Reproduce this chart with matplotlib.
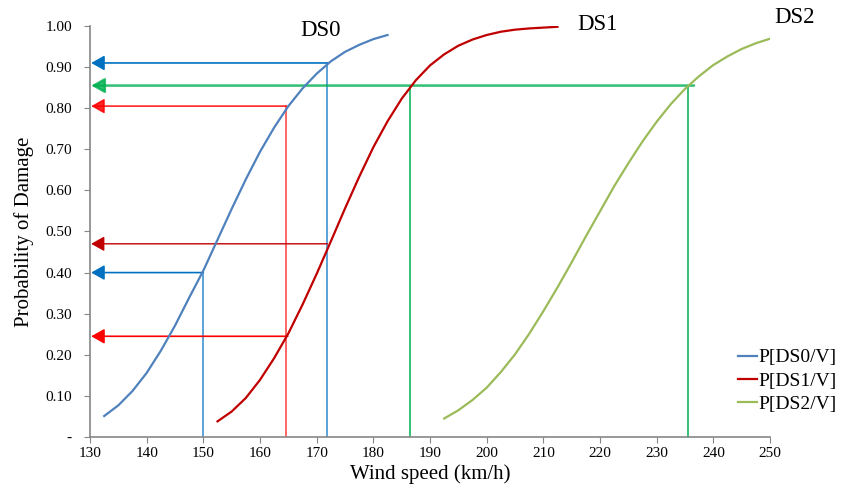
import numpy as np
import matplotlib
matplotlib.use("Agg")
import matplotlib.pyplot as plt

plt.rcParams['font.family'] = ['Liberation Serif', 'DejaVu Serif']

# Fragility curves
ds0_v = [132.5, 135, 137.5, 140, 142.5, 145, 147.5, 150, 152.5, 155, 157.5, 160,
         162.5, 165, 167.5, 170, 172.5, 175, 177.5, 180, 182.5]
ds0_p = [0.051, 0.077, 0.112, 0.156, 0.210, 0.271, 0.339, 0.405, 0.480, 0.555, 0.627, 0.694,
         0.753, 0.805, 0.848, 0.884, 0.914, 0.937, 0.954, 0.968, 0.978]

ds1_v = [152.5, 155, 157.5, 160, 162.5, 165, 167.5, 170, 172.5, 175, 177.5, 180,
         182.5, 185, 187.5, 190, 192.5, 195, 197.5, 200, 202.5, 205, 207.5, 210, 212.5]
ds1_p = [0.038, 0.062, 0.095, 0.139, 0.192, 0.252, 0.322, 0.397, 0.476, 0.556, 0.633, 0.705,
         0.768, 0.823, 0.868, 0.904, 0.931, 0.952, 0.967, 0.978, 0.986, 0.991, 0.994, 0.996, 0.998]

ds2_v = [192.5, 195, 197.5, 200, 202.5, 205, 207.5, 210, 212.5, 215, 217.5, 220,
         222.5, 225, 227.5, 230, 232.5, 235, 237.5, 240, 242.5, 245, 247.5, 250]
ds2_p = [0.045, 0.065, 0.090, 0.120, 0.158, 0.201, 0.251, 0.306, 0.364, 0.425, 0.488, 0.549,
         0.610, 0.666, 0.719, 0.767, 0.810, 0.847, 0.878, 0.905, 0.926, 0.944, 0.958, 0.969]

# reading lines: (wind speed, probability)
blue_reads = [(150.0, 0.40), (171.9, 0.91)]
red_reads = [(164.6, 0.805)]
red_only_h = [(164.9, 0.245)]
darkred_only_h = [(171.9, 0.47)]
green_h = (236.6, 0.855)
green_v = [186.5, 235.6]

fig = plt.figure(figsize=(8.43, 4.90), dpi=100)
ax = fig.add_axes([0.1068, 0.1082, 0.8066, 0.8388])

ax.plot(ds0_v, ds0_p, color="#4F81BD", lw=1.6, label="P[DS0/V]", zorder=3)
ax.plot(ds1_v, ds1_p, color="#C00000", lw=1.6, label="P[DS1/V]", zorder=3)
ax.plot(ds2_v, ds2_p, color="#9BBB59", lw=1.6, label="P[DS2/V]", zorder=3)


def arrow_left(x, y, color, lw=1.2, alpha=1.0):
    ax.annotate("", xy=(130.2, y), xytext=(x, y),
                arrowprops=dict(arrowstyle="-|>,head_length=0.8,head_width=0.45",
                                color=color, lw=lw, alpha=alpha,
                                shrinkA=0, shrinkB=0), zorder=2)


for x, y in blue_reads:
    arrow_left(x, y, "#0070C0")
    ax.plot([x, x], [0, y], color="#0070C0", lw=1.2, alpha=0.75, zorder=2)
for x, y in red_reads:
    arrow_left(x, y, "#FF0000", alpha=0.85)
    ax.plot([x, x], [0, y], color="#FF0000", lw=1.2, alpha=0.7, zorder=2)
for x, y in red_only_h:
    arrow_left(x, y, "#FF0000")
for x, y in darkred_only_h:
    arrow_left(x, y, "#C00000", lw=1.0)
arrow_left(green_h[0], green_h[1], "#00B050", lw=1.8, alpha=0.8)
for x in green_v:
    ax.plot([x, x], [0, green_h[1]], color="#00B050", lw=1.1, zorder=2)

ax.text(170.6, 0.99, "DS0", fontsize=16.5, ha="center", va="center")
ax.text(219.6, 1.003, "DS1", fontsize=16.5, ha="center", va="center", clip_on=False)
ax.text(254.3, 1.02, "DS2", fontsize=16.5, ha="center", va="center", clip_on=False)

ax.set_xlim(130, 250)
ax.set_ylim(0, 1.0)
ax.set_xticks(np.arange(130, 251, 10))
yt = np.round(np.arange(0, 1.01, 0.1), 2)
ax.set_yticks(yt)
ax.set_yticklabels(["-"] + ["%.2f" % v for v in yt[1:]])
ax.tick_params(labelsize=11, color="#868686", length=4, direction="out")
ax.tick_params(axis="y", pad=9)
for s in ["top", "right"]:
    ax.spines[s].set_visible(False)
for s in ["left", "bottom"]:
    ax.spines[s].set_color("#868686")
    ax.spines[s].set_linewidth(1.2)

ax.set_xlabel("Wind speed (km/h)", fontsize=15, labelpad=3)
ax.set_ylabel("Probability of Damage", fontsize=15, labelpad=8)

fig.legend(loc="center left", bbox_to_anchor=(720 / 843, 1 - 381 / 490),
           frameon=False, fontsize=14, handlelength=1.0, handletextpad=0.1,
           labelspacing=0.3)

fig.savefig("out.png", dpi=100)
